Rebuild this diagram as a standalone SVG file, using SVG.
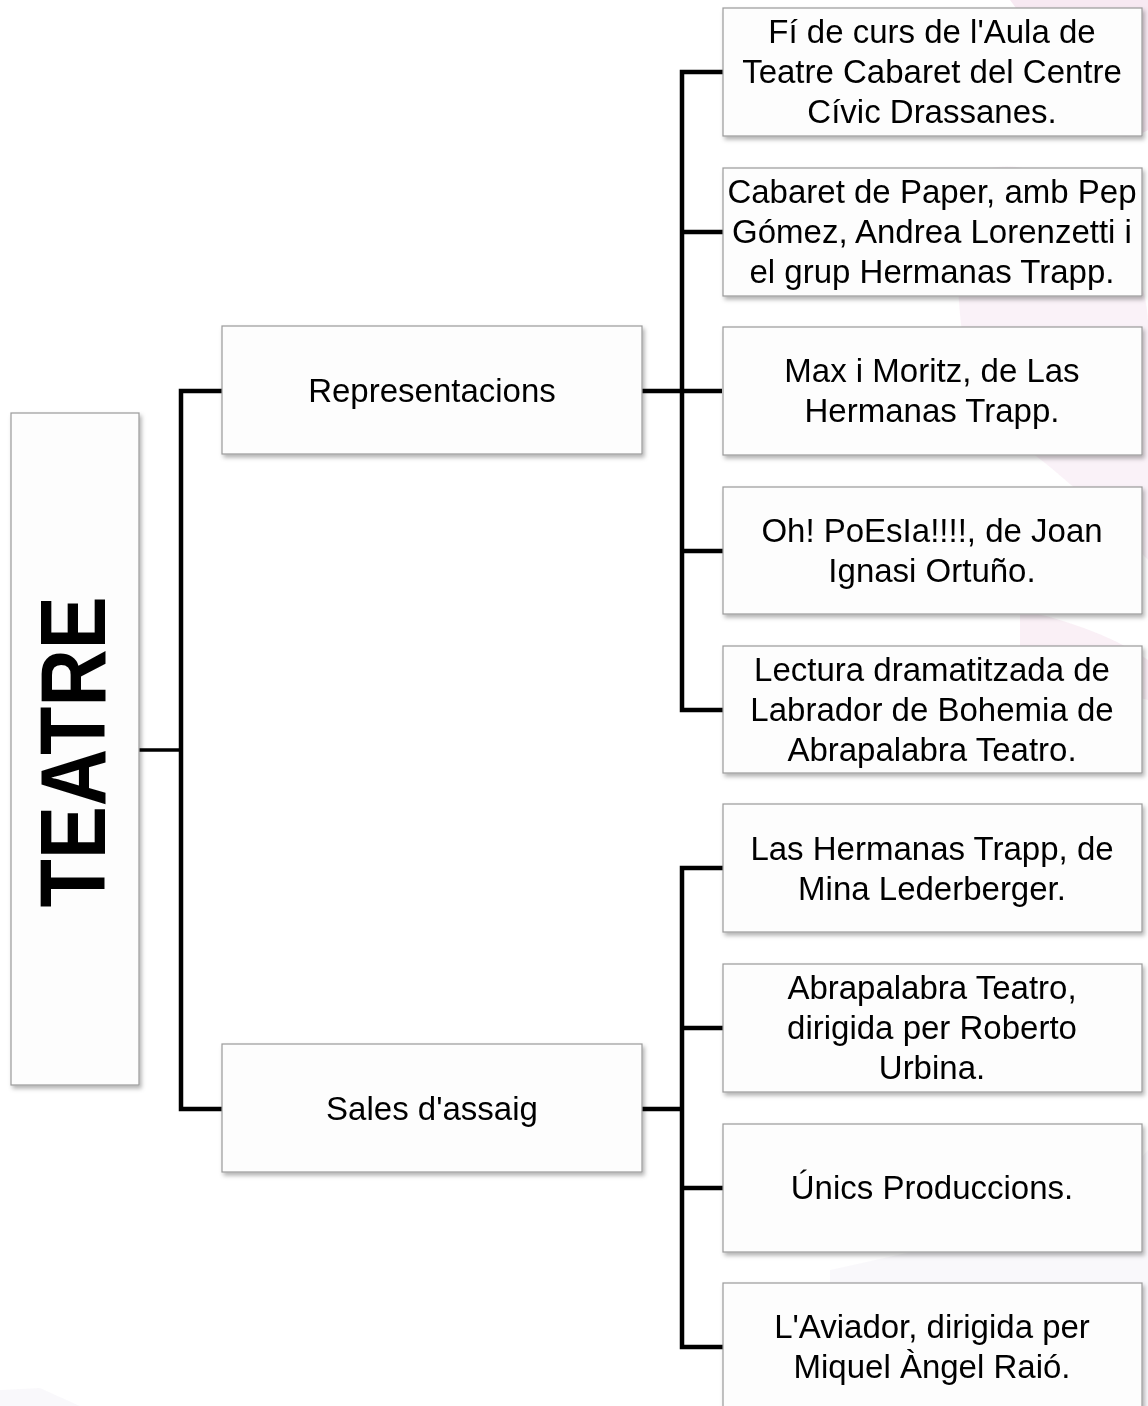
<svg xmlns="http://www.w3.org/2000/svg" width="1148" height="1406" viewBox="0 0 1148 1406">
  <defs>
    <filter id="sh" x="-10%" y="-10%" width="130%" height="130%">
      <feDropShadow dx="2" dy="3" stdDeviation="2" flood-color="#000" flood-opacity="0.3"/>
    </filter>
    <style>
      .box { fill: #fdfdfd; stroke: #9a9a9a; stroke-width: 1.2; filter: url(#sh); }
      .t { font-family: "Liberation Sans", Arial, sans-serif; font-size: 33px; fill: #000; text-anchor: middle; }
      .big { font-family: "Liberation Sans", Arial, sans-serif; font-size: 92px; font-weight: bold; fill: #000; text-anchor: middle; }
      .c { fill: none; stroke: #000; stroke-width: 4.5; stroke-linejoin: miter; }
      .bg { fill: #f6e7f1; }
      .bg2 { fill: #f9f8fb; }
    </style>
  </defs>
  <rect width="1148" height="1406" fill="#ffffff"/>
  <g id="background" opacity="0.9">
    <path class="bg" d="M1010 0 C1040 40 1060 90 1090 120 C1120 150 1148 130 1148 130 L1148 0 Z"/>
    <path class="bg" d="M960 180 C1010 150 1070 170 1120 240 C1148 280 1148 320 1148 320 L1148 560 C1110 520 1060 470 1000 430 C970 400 950 330 960 180 Z" opacity="0.6"/>
    <path class="bg" d="M1020 610 C1070 620 1120 640 1148 660 L1148 700 C1110 690 1060 670 1020 650 Z" opacity="0.7"/>
    <path class="bg2" d="M830 1406 L830 1270 L920 1250 L940 1180 L1020 1180 L1090 1240 L1130 1170 L1148 1150 L1148 1406 Z"/>
    <path class="bg2" d="M0 1406 L0 1390 L40 1388 L80 1406 Z"/>
  </g>
  <g id="connectors">
    <path class="c" d="M139 750 H181" style="stroke-width:3.5"/>
    <path class="c" d="M222 391 H181 V1109 H222"/>
    <path class="c" d="M642 391 H722"/>
    <path class="c" d="M723 72 H682 V710 H723"/>
    <path class="c" d="M682 232 H723"/>
    <path class="c" d="M682 551 H723"/>
    <path class="c" d="M642 1109 H682"/>
    <path class="c" d="M723 868 H682 V1347 H723"/>
    <path class="c" d="M682 1028 H723"/>
    <path class="c" d="M682 1188 H723"/>
  </g>
  <g id="teatre">
    <rect class="box" x="11" y="413" width="128" height="672"/>
    <text class="big" transform="translate(105,752) rotate(-90)" x="0" y="0" textLength="311" lengthAdjust="spacingAndGlyphs">TEATRE</text>
  </g>
  <g id="representacions">
    <rect class="box" x="222" y="326" width="420" height="128"/>
    <text class="t" x="432" y="402">Representacions</text>
  </g>
  <g id="sales">
    <rect class="box" x="222" y="1044" width="420" height="128"/>
    <text class="t" x="432" y="1120">Sales d'assaig</text>
  </g>
  <g id="r1">
    <rect class="box" x="723" y="8" width="419" height="128"/>
    <text class="t" x="932" y="43">Fí de curs de l'Aula de</text>
    <text class="t" x="932" y="83">Teatre Cabaret del Centre</text>
    <text class="t" x="932" y="123">Cívic Drassanes.</text>
  </g>
  <g id="r2">
    <rect class="box" x="723" y="168" width="419" height="128"/>
    <text class="t" x="932" y="203">Cabaret de Paper, amb Pep</text>
    <text class="t" x="932" y="243">Gómez, Andrea Lorenzetti i</text>
    <text class="t" x="932" y="283">el grup Hermanas Trapp.</text>
  </g>
  <g id="r3">
    <rect class="box" x="723" y="327" width="419" height="128"/>
    <text class="t" x="932" y="382">Max i Moritz, de Las</text>
    <text class="t" x="932" y="422">Hermanas Trapp.</text>
  </g>
  <g id="r4">
    <rect class="box" x="723" y="487" width="419" height="127"/>
    <text class="t" x="932" y="542">Oh! PoEsIa!!!!, de Joan</text>
    <text class="t" x="932" y="582">Ignasi Ortuño.</text>
  </g>
  <g id="r5">
    <rect class="box" x="723" y="646" width="419" height="127"/>
    <text class="t" x="932" y="681">Lectura dramatitzada de</text>
    <text class="t" x="932" y="721">Labrador de Bohemia de</text>
    <text class="t" x="932" y="761">Abrapalabra Teatro.</text>
  </g>
  <g id="s1">
    <rect class="box" x="723" y="804" width="419" height="128"/>
    <text class="t" x="932" y="860">Las Hermanas Trapp, de</text>
    <text class="t" x="932" y="900">Mina Lederberger.</text>
  </g>
  <g id="s2">
    <rect class="box" x="723" y="964" width="419" height="128"/>
    <text class="t" x="932" y="999">Abrapalabra Teatro,</text>
    <text class="t" x="932" y="1039">dirigida per Roberto</text>
    <text class="t" x="932" y="1079">Urbina.</text>
  </g>
  <g id="s3">
    <rect class="box" x="723" y="1124" width="419" height="128"/>
    <text class="t" x="932" y="1199">Únics Produccions.</text>
  </g>
  <g id="s4">
    <rect class="box" x="723" y="1283" width="419" height="128"/>
    <text class="t" x="932" y="1338">L'Aviador, dirigida per</text>
    <text class="t" x="932" y="1378">Miquel Àngel Raió.</text>
  </g>
</svg>
